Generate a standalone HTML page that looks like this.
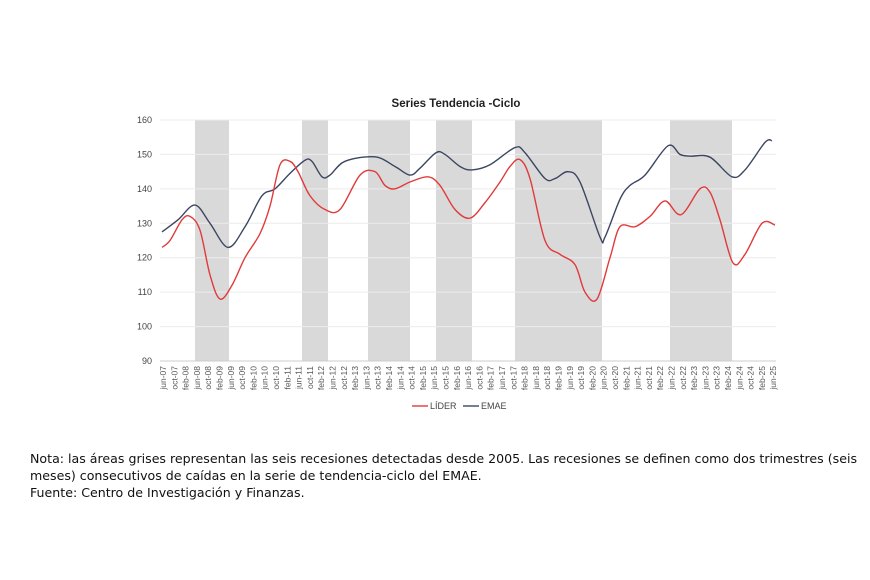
<!DOCTYPE html>
<html><head><meta charset="utf-8"><style>
body{margin:0;background:#fff;width:870px;height:580px;overflow:hidden;font-family:"Liberation Sans",sans-serif}
.note{position:absolute;left:30px;top:450px;font-family:"DejaVu Sans",sans-serif;font-size:12.6px;line-height:17px;color:#111;width:845px}
</style></head><body>
<svg id="s" width="870" height="440" style="position:absolute;left:0;top:0" font-family="Liberation Sans, sans-serif">
<text x="456" y="107" text-anchor="middle" font-size="11.5" font-weight="bold" fill="#222">Series Tendencia -Ciclo</text>
<g fill="#d9d9d9">
<rect x="195" y="120" width="34" height="241"/><rect x="302" y="120" width="26" height="241"/>
<rect x="368" y="120" width="42" height="241"/><rect x="436" y="120" width="36" height="241"/>
<rect x="515" y="120" width="87" height="241"/><rect x="670" y="120" width="62" height="241"/>
</g>
<g id="grid" stroke="#ececec" stroke-width="1"></g>
<line x1="160" y1="361" x2="776" y2="361" stroke="#ccc"/>
<g id="yl" font-size="9" fill="#444" text-anchor="end"></g>
<g id="xl" font-size="8.5" fill="#555"></g>
<path id="emae" fill="none" stroke="#3b4660" stroke-width="1.4"/>
<path id="lider" fill="none" stroke="#e03a3a" stroke-width="1.4"/>
<line x1="412" y1="406" x2="428" y2="406" stroke="#e03a3a" stroke-width="1.4"/>
<text x="430" y="409" font-size="9" fill="#444">LÍDER</text>
<line x1="463" y1="406" x2="479" y2="406" stroke="#3b4660" stroke-width="1.4"/>
<text x="481" y="409" font-size="9" fill="#444">EMAE</text>
</svg>
<div class="note">Nota: las áreas grises representan las seis recesiones detectadas desde 2005. Las recesiones se definen como dos trimestres (seis meses) consecutivos de caídas en la serie de tendencia-ciclo del EMAE.<br>Fuente: Centro de Investigación y Finanzas.</div>
<script>
var Y=function(v){return 120+(160-v)*3.443};
var ns="http://www.w3.org/2000/svg";
function el(t,a,p,txt){var e=document.createElementNS(ns,t);for(var k in a)e.setAttribute(k,a[k]);if(txt)e.textContent=txt;document.getElementById(p).appendChild(e);}
for(var v=100;v<=160;v+=10)el("line",{x1:160,x2:776,y1:Y(v),y2:Y(v)},"grid");
for(var v=90;v<=160;v+=10)el("text",{x:152,y:Y(v)+3},"yl",v);
var m=["jun","oct","feb"];var i=0;
for(var yr=7;yr<=25;yr++){for(var j=0;j<3;j++){var mm=m[j];var y2=(j==2)?yr+1:yr;if(yr==25&&j>0)break;
var x=163+i*11.3;var lab=mm+"-"+(y2<10?"0"+y2:y2);
el("text",{x:0,y:0,transform:"translate("+(x+3)+",366) rotate(-90)","text-anchor":"end"},"xl",lab);i++;}}
function path(pts){var p=pts.map(function(a){return[a[0],Y(a[1])]});var d="M"+p[0][0]+","+p[0][1];
for(var k=0;k<p.length-1;k++){var p0=p[k-1]||p[k],p1=p[k],p2=p[k+1],p3=p[k+2]||p2;
d+=" C"+(p1[0]+(p2[0]-p0[0])/6)+","+(p1[1]+(p2[1]-p0[1])/6)+" "+(p2[0]-(p3[0]-p1[0])/6)+","+(p2[1]-(p3[1]-p1[1])/6)+" "+p2[0]+","+p2[1];}return d;}
var E=[[162,127.5],[178,131],[195,135.3],[210,130],[228,123],[245,129],[262,138],[275,140],[290,144.5],[305,148.3],[312,148],[322,143.5],[330,144],[345,148],[375,149.3],[395,146.5],[410,144],[420,146],[436,150.5],[445,150],[460,146.5],[472,145.5],[490,147],[515,152],[525,150.5],[545,143],[555,143],[568,145],[580,142],[600,126],[605,126],[620,137],[630,141],[645,144],[668,152.5],[680,150],[690,149.5],[710,149.2],[732,143.5],[745,145.5],[765,153.5],[772,154]];
var L=[[162,123],[170,125],[182,131],[190,132],[200,128],[210,115],[220,108],[232,112],[245,120],[260,127],[270,135],[280,147],[290,148],[298,145],[310,138],[325,134],[340,134],[360,144],[375,145],[385,141],[395,140],[410,142],[428,143.5],[440,141],[455,134],[470,131.5],[485,136],[500,142],[510,146.5],[520,148.5],[530,143],[545,125],[560,121],[575,118],[585,110],[597,108],[610,120],[620,129],[635,129],[650,132],[665,136.5],[681,132.5],[700,140],[710,139],[720,131],[733,118.5],[745,121],[762,130],[775,129.5]];
document.getElementById("emae").setAttribute("d",path(E));
document.getElementById("lider").setAttribute("d",path(L));
</script>
</body></html>
